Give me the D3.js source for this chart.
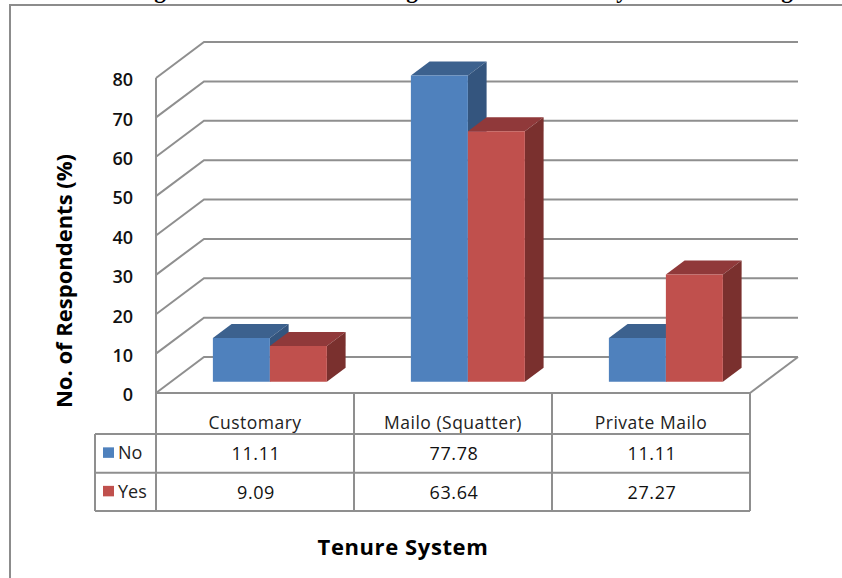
<!DOCTYPE html>
<html>
<head>
<meta charset="utf-8">
<script src="https://cdn.jsdelivr.net/npm/d3@7/dist/d3.min.js"></script>
<style>
  html, body { margin: 0; padding: 0; background: #fff; }
  svg { display: block; }
  text { font-family: "Open Sans", "Noto Sans", sans-serif; fill: #111; }
</style>
</head>
<body>
<div id="chart"></div>
<script>
// Survey values: share of respondents per tenure system
const categories = ["Customary", "Mailo (Squatter)", "Private Mailo"];
const seriesNames = ["No", "Yes"];
const noValues = [11.11, 77.78, 11.11];
const yesValues = [9.09, 63.64, 27.27];
const yTicks = [0, 10, 20, 30, 40, 50, 60, 70, 80];
const axisTitleY = "No. of Respondents (%)";
const axisTitleX = "Tenure System";
const headingFragments = [["g", 160], ["g", 412], ["y", 622], ["g", 787]];

const seriesValues = [noValues, yesValues];
const faceColors = {
  No:  { front: "#4f81bd", top: "#3c618e", side: "#34557e" },
  Yes: { front: "#c0504d", top: "#90393a", side: "#7a302e" }
};

const width = 842, height = 578;
const svg = d3.select("#chart").append("svg").attr("width", width).attr("height", height);

// Front plane of the 3D box
const x = d3.scaleBand().domain(categories).range([156, 750]);
const y = d3.scaleLinear().domain([0, 80]).range([393, 78]);
const xInner = d3.scaleBand().domain(seriesNames).range([0, x.bandwidth()]).paddingOuter(0.737).paddingInner(0);

// Oblique projection: depth 0 is the front plane, depth 1 the back wall
const wallDx = 48, wallDy = -36;
const project = (px, py, depth) => [px + wallDx * depth, py + wallDy * depth];
const barDepthStart = 0.31, barDepthEnd = 0.70;

const gridColor = "#8f8f8f";
const poly = pts => pts.map(p => p.join(",")).join(" ");

// Page frame
svg.append("path").attr("d", "M10,578V5H842").attr("fill", "none").attr("stroke", "#8c8c8c").attr("stroke-width", 2);

// Heading line running off the top edge
svg.append("g").selectAll("text").data(headingFragments).join("text")
  .attr("x", d => d[1]).attr("y", -2).attr("text-anchor", "middle")
  .style("font-family", "'Liberation Serif', serif").style("font-weight", "bold").style("font-size", "23px").style("fill", "#000")
  .text(d => d[0]);

// Wall gridlines
const grid = svg.append("g").attr("fill", "none").attr("stroke", gridColor).attr("stroke-width", 2);
yTicks.forEach(t => {
  const front = [x.range()[0], y(t)];
  const back = project(front[0], front[1], 1);
  const backEnd = project(x.range()[1], y(t), 1);
  grid.append("polyline").attr("points", poly([front, back, backEnd]));
});
// Floor edge on the right
grid.append("line")
  .attr("x1", x.range()[1]).attr("y1", y(0))
  .attr("x2", project(x.range()[1], y(0), 1)[0]).attr("y2", project(x.range()[1], y(0), 1)[1]);

// Bars: each one is a front rectangle plus top and side faces
seriesNames.forEach((name, si) => {
  categories.forEach((cat, ci) => {
    const v = seriesValues[si][ci];
    const x0 = x(cat) + xInner(name);
    const x1 = x0 + xInner.bandwidth();
    const colors = faceColors[name];
    const f = (px, py) => project(px, py, barDepthStart);
    const b = (px, py) => project(px, py, barDepthEnd);
    const g = svg.append("g").attr("class", "bar");
    g.append("polygon").attr("fill", colors.top)
      .attr("points", poly([f(x0, y(v)), f(x1, y(v)), b(x1, y(v)), b(x0, y(v))]));
    g.append("polygon").attr("fill", colors.side)
      .attr("points", poly([f(x1, y(v)), b(x1, y(v)), b(x1, y(0)), f(x1, y(0))]));
    g.append("polygon").attr("fill", colors.front)
      .attr("points", poly([f(x0, y(v)), f(x1, y(v)), f(x1, y(0)), f(x0, y(0))]));
  });
});

// Value axis labels
const axisG = svg.append("g").attr("transform", "translate(133,2)")
  .call(d3.axisLeft(y).tickValues(yTicks).tickSize(0).tickPadding(0).tickFormat(d3.format("d")));
axisG.select(".domain").remove();
axisG.selectAll("text")
  .style("font-family", "'Open Sans', sans-serif").style("font-size", "18px").style("font-weight", "600").style("fill", "#111");

// Data table under the plot
const rowY = [393, 434, 472.7, 511];
const tableLeft = 95, labelRight = x.range()[0];
const tableLine = svg.append("g").attr("stroke", gridColor).attr("stroke-width", 2).attr("fill", "none");
tableLine.append("line").attr("x1", labelRight).attr("x2", x.range()[1]).attr("y1", rowY[0]).attr("y2", rowY[0]);
rowY.slice(1).forEach(ry => {
  tableLine.append("line").attr("x1", tableLeft).attr("x2", x.range()[1]).attr("y1", ry).attr("y2", ry);
});
[...categories.map(c => x(c)), x.range()[1]].forEach(vx => {
  tableLine.append("line").attr("x1", vx).attr("x2", vx)
    .attr("y1", vx === x.range()[0] ? y(80) : rowY[0]).attr("y2", rowY[3]);
});
tableLine.append("line").attr("x1", tableLeft).attr("x2", tableLeft).attr("y1", rowY[1]).attr("y2", rowY[3]);

svg.append("g").selectAll("text").data(categories).join("text")
  .attr("x", d => x(d) + x.bandwidth() / 2).attr("y", 429).attr("text-anchor", "middle")
  .style("font-size", "17.5px").style("letter-spacing", "0.5px").style("fill", "#222").text(d => d);

seriesNames.forEach((name, si) => {
  const cy = (rowY[si + 1] + rowY[si + 2]) / 2;
  svg.append("rect").attr("x", 103).attr("y", cy - 6).attr("width", 11).attr("height", 10.5)
    .attr("fill", faceColors[name].front);
  svg.append("text").attr("x", 118).attr("y", cy + 6).style("font-size", "18px").style("fill", "#222").text(name);
  svg.append("g").selectAll("text").data(seriesValues[si]).join("text")
    .attr("x", (d, i) => x(categories[i]) + x.bandwidth() / 2 + 1).attr("y", cy + 7).attr("text-anchor", "middle")
    .style("font-size", "18px").style("font-weight", "500").style("letter-spacing", "0.6px").style("fill", "#111")
    .text(d => d3.format(".2f")(d));
});

// Axis titles
svg.append("text").attr("transform", "translate(72,281) rotate(-90)").attr("text-anchor", "middle")
  .style("font-size", "22px").style("font-weight", "700").style("fill", "#000").text(axisTitleY);
svg.append("text").attr("x", 403).attr("y", 555).attr("text-anchor", "middle")
  .style("font-size", "22px").style("font-weight", "700").style("letter-spacing", "0.6px").style("fill", "#000").text(axisTitleX);
</script>
</body>
</html>
